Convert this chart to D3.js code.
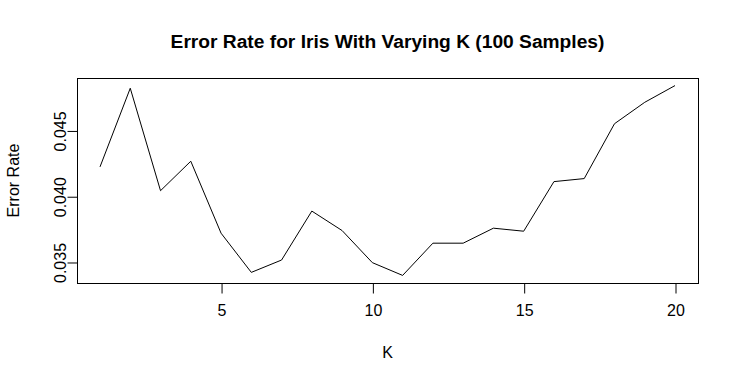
<!DOCTYPE html>
<html>
<head>
<meta charset="utf-8">
<script src="https://cdn.jsdelivr.net/npm/d3@7"></script>
<style>
  html, body { margin: 0; padding: 0; background: #fff; }
  svg { display: block; }
  text { font-family: "Liberation Sans", Arial, sans-serif; fill: #000; }
</style>
</head>
<body>
<svg id="chart" width="739" height="381"></svg>
<script>
const kValues = [1,2,3,4,5,6,7,8,9,10,11,12,13,14,15,16,17,18,19,20];
const errorRates = [0.04223,0.04821,0.04042,0.04266,0.03719,0.03421,0.03515,0.03887,0.03739,0.03495,
                    0.03398,0.03643,0.03643,0.03757,0.03734,0.04111,0.04134,0.04551,0.04714,0.04841];
const xTicks = [5,10,15,20];
const yTicks = [0.035,0.040,0.045];
const yTickLabels = ["0.035","0.040","0.045"];
const titleText = "Error Rate for Iris With Varying K (100 Samples)";
const xLabel = "K";
const yLabel = "Error Rate";

const svg = d3.select("#chart");
const pLeft = 77, pRight = 698, pTop = 78, pBottom = 283;

const xmin = d3.min(kValues), xmax = d3.max(kValues);
const xr = xmax - xmin;
const x = d3.scaleLinear().domain([xmin - 0.04*xr, xmax + 0.04*xr]).range([pLeft, pRight]);
const ymin = d3.min(errorRates), ymax = d3.max(errorRates);
const yr = ymax - ymin;
const y = d3.scaleLinear().domain([ymin - 0.04*yr, ymax + 0.04*yr]).range([pBottom, pTop]);

// line
const line = d3.line().x((d,i) => x(kValues[i])).y(d => y(d));
svg.append("path")
  .datum(errorRates)
  .attr("d", line)
  .attr("fill", "none")
  .attr("stroke", "#000")
  .attr("stroke-width", 1);

// box
svg.append("rect")
  .attr("x", pLeft + 0.5).attr("y", pTop + 0.5)
  .attr("width", pRight - pLeft).attr("height", pBottom - pTop)
  .attr("fill", "none").attr("stroke", "#000").attr("stroke-width", 1);

// x axis
const xAxis = d3.axisBottom(x).tickValues(xTicks).tickSize(10).tickPadding(11).tickSizeOuter(0)
  .tickFormat(d3.format("d"));
const gx = svg.append("g").attr("transform", `translate(0.5,${pBottom + 0.5})`).call(xAxis);
gx.select(".domain").remove();
gx.selectAll("text").attr("font-size", 16).attr("font-family", "Liberation Sans, Arial, sans-serif").attr("fill", "#000");
gx.selectAll("line").attr("stroke", "#000");

// y axis
const yAxis = d3.axisLeft(y).tickValues(yTicks).tickSize(10).tickSizeOuter(0)
  .tickFormat((d,i) => yTickLabels[i]);
const gy = svg.append("g").attr("transform", `translate(${pLeft + 0.5},0.5)`).call(yAxis);
gy.select(".domain").remove();
gy.selectAll("line").attr("stroke", "#000");
gy.selectAll("text")
  .attr("font-size", 16).attr("font-family", "Liberation Sans, Arial, sans-serif").attr("fill", "#000")
  .attr("x", null).attr("dy", null)
  .attr("text-anchor", "middle")
  .attr("transform", "translate(-12,0) rotate(-90)");

// title
svg.append("text")
  .attr("x", (pLeft + pRight) / 2).attr("y", 48)
  .attr("text-anchor", "middle")
  .attr("font-size", 19.2).attr("font-weight", "bold")
  .text(titleText);

// axis labels
svg.append("text")
  .attr("x", (pLeft + pRight) / 2).attr("y", 358)
  .attr("text-anchor", "middle").attr("font-size", 16)
  .text(xLabel);
svg.append("text")
  .attr("transform", `translate(19,${(pTop + pBottom) / 2}) rotate(-90)`)
  .attr("text-anchor", "middle").attr("font-size", 16)
  .text(yLabel);
</script>
</body>
</html>
